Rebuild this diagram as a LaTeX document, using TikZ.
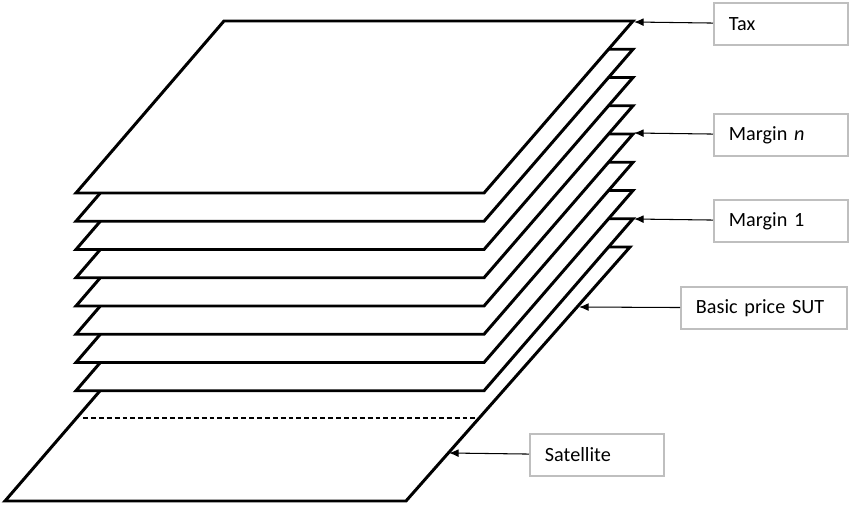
\documentclass[tikz,border=0pt]{standalone}
\usepackage{fontspec}
\setmainfont{Carlito}[WordSpace=0.7]
\usepackage{tikz}
\usetikzlibrary{arrows.meta}

\tikzset{
  sheet/.style={fill=white, draw=black, line width=1.7pt, line join=miter},
  lbl/.style={rectangle, draw=black!25, line width=1.1pt, anchor=north west, align=left,
    minimum height=0.84cm, inner xsep=0.3cm, text width=2.08cm, font=\fontsize{11.5}{13}\selectfont},
  pointer/.style={-{Latex[length=5.5pt,width=4.5pt]}, line width=0.6pt}
}

\begin{document}
\begin{tikzpicture}[x=0.02cm, y=-0.02cm]
\useasboundingbox (0,0) rectangle (850,507);

% satellite sheet at the back
\filldraw[sheet] (224,247) -- (630,247) -- (406,501) -- (5,501) -- cycle;
\draw[dashed, dash pattern=on 2.8pt off 1.7pt, line width=0.9pt] (83,418) -- (478,418);

% margin and tax sheets
\filldraw[sheet] (224,218.75) -- (633,218.75) -- (484,390.75) -- (76,390.75) -- cycle;
\filldraw[sheet] (224,190.5) -- (633,190.5) -- (484,362.5) -- (76,362.5) -- cycle;
\filldraw[sheet] (224,162.25) -- (633,162.25) -- (484,334.25) -- (76,334.25) -- cycle;
\filldraw[sheet] (224,134) -- (633,134) -- (484,306) -- (76,306) -- cycle;
\filldraw[sheet] (224,105.75) -- (633,105.75) -- (484,277.75) -- (76,277.75) -- cycle;
\filldraw[sheet] (224,77.5) -- (633,77.5) -- (484,249.5) -- (76,249.5) -- cycle;
\filldraw[sheet] (224,49.25) -- (633,49.25) -- (484,221.25) -- (76,221.25) -- cycle;
\filldraw[sheet] (224,21) -- (633,21) -- (484,193) -- (76,193) -- cycle;

\coordinate (taxpt) at (634,22);
\coordinate (marginnpt) at (634,133);
\coordinate (marginonept) at (634,219);
\coordinate (basicpt) at (579,307);
\coordinate (satpt) at (449,453);

% labels
\node (tax) [lbl] at (713,2) {Tax};
\node (marginn) [lbl] at (713,113) {Margin \textit{n}};
\node (marginone) [lbl] at (713,199) {Margin 1};
\node (basic) [lbl, text width=2.72cm] at (680,286) {Basic price SUT};
\node (sat) [lbl] at (529,433) {Satellite};

\draw[pointer] (tax) -- (taxpt);
\draw[pointer] (marginn) -- (marginnpt);
\draw[pointer] (marginone) -- (marginonept);
\draw[pointer] (basic) -- (basicpt);
\draw[pointer] (sat) -- (satpt);
\end{tikzpicture}
\end{document}
